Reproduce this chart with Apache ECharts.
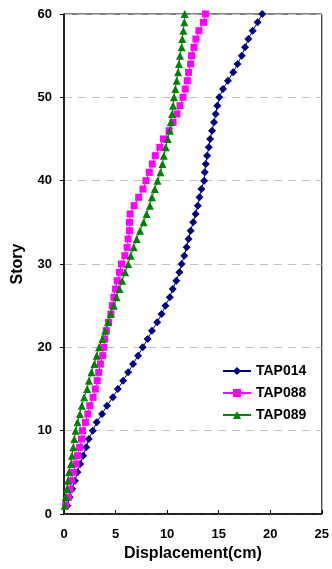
<!DOCTYPE html>
<html><head><meta charset="utf-8">
<script src="https://cdn.jsdelivr.net/npm/echarts@6/dist/echarts.min.js"></script>
<style>html,body{margin:0;padding:0;background:#fff}#c{width:332px;height:569px}</style>
</head><body><div id="c"></div>
<script>
const stories = [];
for (let i = 1; i <= 60; i++) stories.push(i);
const tap014 = [0.32,0.54,0.8,1.06,1.31,1.57,1.86,2.15,2.4,2.79,3.17,3.69,4.17,4.74,5.22,5.74,6.22,6.7,7.18,7.63,8.11,8.53,9.04,9.46,9.84,10.26,10.54,10.9,11.19,11.41,11.67,11.89,12.08,12.28,12.53,12.76,12.98,13.14,13.33,13.59,13.65,13.75,13.88,14.04,14.17,14.36,14.55,14.71,14.87,15.06,15.42,15.9,16.41,16.83,17.24,17.56,17.88,18.3,18.78,19.23];
const tap088 = [0.16,0.42,0.58,0.71,0.9,1.15,1.31,1.51,1.7,1.79,2.08,2.31,2.5,2.82,3.04,3.22,3.37,3.53,3.75,3.85,3.94,4.1,4.33,4.55,4.68,4.84,5.0,5.16,5.38,5.58,5.9,6.12,6.22,6.35,6.35,6.41,6.8,7.24,7.66,7.95,8.27,8.56,8.85,9.29,9.65,10.19,10.58,10.96,11.25,11.54,11.76,11.96,12.08,12.28,12.37,12.6,12.79,13.08,13.53,13.72];
const tap089 = [0.06,0.16,0.29,0.38,0.48,0.67,0.77,0.9,1.0,1.12,1.31,1.54,1.73,1.96,2.24,2.42,2.66,2.95,3.17,3.4,3.72,4.0,4.26,4.52,4.84,5.1,5.38,5.64,5.93,6.22,6.47,6.76,7.05,7.37,7.72,8.01,8.33,8.53,8.81,9.07,9.36,9.55,9.68,9.87,10.06,10.26,10.35,10.48,10.58,10.67,10.8,10.93,11.06,11.15,11.25,11.41,11.47,11.57,11.67,11.7];
const seriesNames = ['TAP014','TAP088','TAP089'];
const xTicks = [0,5,10,15,20,25];
const yTicks = [0,10,20,30,40,50,60];

const font = '"Liberation Sans", Arial, sans-serif';
function pairs(vals){ return vals.map((v,i)=>[v, stories[i]]); }
const chart = echarts.init(document.getElementById('c'), null, {renderer:'canvas'});
chart.setOption({
  animation:false,
  backgroundColor:'#fff',
  grid:{left:64,right:8,top:14,bottom:55,show:true,borderColor:'#000',borderWidth:1,backgroundColor:'transparent'},
  legend:{
    orient:'vertical', left:217, top:359, itemWidth:28, itemHeight:10, itemGap:8,
    textStyle:{fontFamily:font,fontWeight:'bold',fontSize:14,color:'#000',padding:[0,0,0,0]},
    data:seriesNames
  },
  xAxis:{
    type:'value', min:xTicks[0], max:xTicks[xTicks.length-1], interval:5,
    name:'Displacement(cm)', nameLocation:'middle', nameGap:32,
    nameTextStyle:{fontFamily:font,fontWeight:'bold',fontSize:16,color:'#000'},
    axisLine:{show:true,onZero:false,lineStyle:{color:'#000',width:1.5}},
    axisTick:{show:true,inside:true,length:4,lineStyle:{color:'#000'}},
    axisLabel:{fontFamily:font,fontWeight:'bold',fontSize:13,color:'#000',margin:14},
    splitLine:{show:false}
  },
  yAxis:{
    type:'value', min:yTicks[0], max:yTicks[yTicks.length-1], interval:10,
    name:'Story', nameLocation:'middle', nameGap:38, nameRotate:90,
    nameTextStyle:{fontFamily:font,fontWeight:'bold',fontSize:16,color:'#000'},
    axisLine:{show:true,onZero:false,lineStyle:{color:'#000',width:1.5}},
    axisTick:{show:true,inside:false,length:4,lineStyle:{color:'#000'}},
    axisLabel:{fontFamily:font,fontWeight:'bold',fontSize:13,color:'#000',margin:12},
    splitLine:{show:true,lineStyle:{color:'#c0c0c0',type:[8,6],width:1}}
  },
  series:[
    {name:seriesNames[0],type:'line',data:pairs(tap014),symbol:'diamond',symbolSize:8,
     itemStyle:{color:'#000080'},lineStyle:{color:'#000080',width:1}},
    {name:seriesNames[1],type:'line',data:pairs(tap088),symbol:'rect',symbolSize:7,
     itemStyle:{color:'#FF00FF'},lineStyle:{color:'#FF00FF',width:1}},
    {name:seriesNames[2],type:'line',data:pairs(tap089),symbol:'triangle',symbolSize:8,
     itemStyle:{color:'#008000'},lineStyle:{color:'#008000',width:1}}
  ]
});
</script></body></html>
